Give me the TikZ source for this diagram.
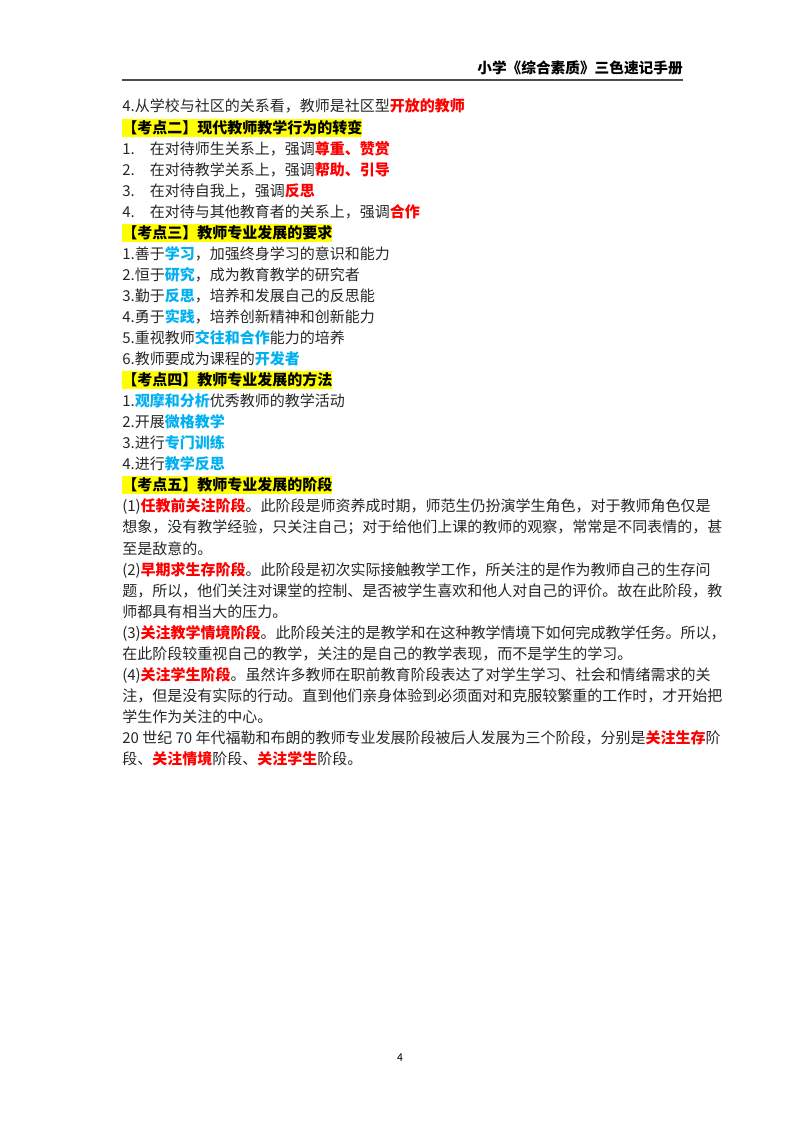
\documentclass[tikz,border=0pt]{standalone}
\usepackage{fontspec}
\setmainfont{Noto Sans CJK SC}
\usetikzlibrary{positioning}
\definecolor{keyred}{RGB}{255,0,0}
\definecolor{keyblue}{RGB}{0,176,240}
\definecolor{hilite}{RGB}{255,255,0}
\newcommand{\rd}[1]{\textcolor{keyred}{\textbf{#1}}}
\newcommand{\bl}[1]{\textcolor{keyblue}{\textbf{#1}}}
\tikzset{
  ln/.style={anchor=west, inner sep=0pt, font=\fontsize{11.25}{13}\selectfont, text=black!85},
  head/.style={ln, fill=hilite, font=\fontsize{11.25}{13}\selectfont\bfseries, text=black, inner ysep=1.5pt}
}
\begin{document}
\begin{tikzpicture}[x=0.75pt,y=-0.75pt]
\useasboundingbox (0,0) rectangle (800,1132);
% header
\node[anchor=east, inner sep=0pt, font=\fontsize{11}{13}\selectfont\bfseries] (title) at (683,68) {小学《综合素质》三色速记手册};
\coordinate (ruleL) at (122,80);
\coordinate (ruleR) at (683,80);
\draw[line width=0.8pt, black!70] (ruleL) -- (ruleR);

\node[ln] (a4) at (122,106) {4.从学校与社区的关系看，教师是社区型\rd{开放的教师}};
% kaodian 2
\node[head] (k2) at (122,128) {【考点二】现代教师教学行为的转变};
\node[ln] (k2a) at (122,149) {1.\quad 在对待师生关系上，强调\rd{尊重、赞赏}};
\node[ln] (k2b) at (122,170) {2.\quad 在对待教学关系上，强调\rd{帮助、引导}};
\node[ln] (k2c) at (122,191) {3.\quad 在对待自我上，强调\rd{反思}};
\node[ln] (k2d) at (122,212) {4.\quad 在对待与其他教育者的关系上，强调\rd{合作}};
% kaodian 3
\node[head] (k3) at (122,233) {【考点三】教师专业发展的要求};
\node[ln] (k3a) at (122,254) {1.善于\bl{学习}，加强终身学习的意识和能力};
\node[ln] (k3b) at (122,275) {2.恒于\bl{研究}，成为教育教学的研究者};
\node[ln] (k3c) at (122,296) {3.勤于\bl{反思}，培养和发展自己的反思能};
\node[ln] (k3d) at (122,317) {4.勇于\bl{实践}，培养创新精神和创新能力};
\node[ln] (k3e) at (122,338) {5.重视教师\bl{交往和合作}能力的培养};
\node[ln] (k3f) at (122,359) {6.教师要成为课程的\bl{开发者}};
% kaodian 4
\node[head] (k4) at (122,380) {【考点四】教师专业发展的方法};
\node[ln] (k4a) at (122,401) {1.\bl{观摩和分析}优秀教师的教学活动};
\node[ln] (k4b) at (122,422) {2.开展\bl{微格教学}};
\node[ln] (k4c) at (122,443) {3.进行\bl{专门训练}};
\node[ln] (k4d) at (122,464) {4.进行\bl{教学反思}};
% kaodian 5
\node[head] (k5) at (122,485) {【考点五】教师专业发展的阶段};
\node[ln] (s1a) at (122,506) {(1)\rd{任教前关注阶段}。此阶段是师资养成时期，师范生仍扮演学生角色，对于教师角色仅是};
\node[ln] (s1b) at (122,527) {想象，没有教学经验，只关注自己；对于给他们上课的教师的观察，常常是不同表情的，甚};
\node[ln] (s1c) at (122,549) {至是敌意的。};
\node[ln] (s2a) at (122,570) {(2)\rd{早期求生存阶段}。此阶段是初次实际接触教学工作，所关注的是作为教师自己的生存问};
\node[ln] (s2b) at (122,591) {题，所以，他们关注对课堂的控制、是否被学生喜欢和他人对自己的评价。故在此阶段，教};
\node[ln] (s2c) at (122,612) {师都具有相当大的压力。};
\node[ln] (s3a) at (122,633) {(3)\rd{关注教学情境阶段}。此阶段关注的是教学和在这种教学情境下如何完成教学任务。所以，};
\node[ln] (s3b) at (122,654) {在此阶段较重视自己的教学，关注的是自己的教学表现，而不是学生的学习。};
\node[ln] (s4a) at (122,675) {(4)\rd{关注学生阶段}。虽然许多教师在职前教育阶段表达了对学生学习、社会和情绪需求的关};
\node[ln] (s4b) at (122,696) {注，但是没有实际的行动。直到他们亲身体验到必须面对和克服较繁重的工作时，才开始把};
\node[ln] (s4c) at (122,717) {学生作为关注的中心。};
\node[ln] (n1) at (122,738) {20 世纪 70 年代福勒和布朗的教师专业发展阶段被后人发展为三个阶段，分别是\rd{关注生存}阶};
\node[ln] (n2) at (122,759) {段、\rd{关注情境}阶段、\rd{关注学生}阶段。};
% page number
\node[inner sep=0pt, font=\fontsize{8}{10}\selectfont] (pg) at (400,1058) {4};
\end{tikzpicture}
\end{document}
